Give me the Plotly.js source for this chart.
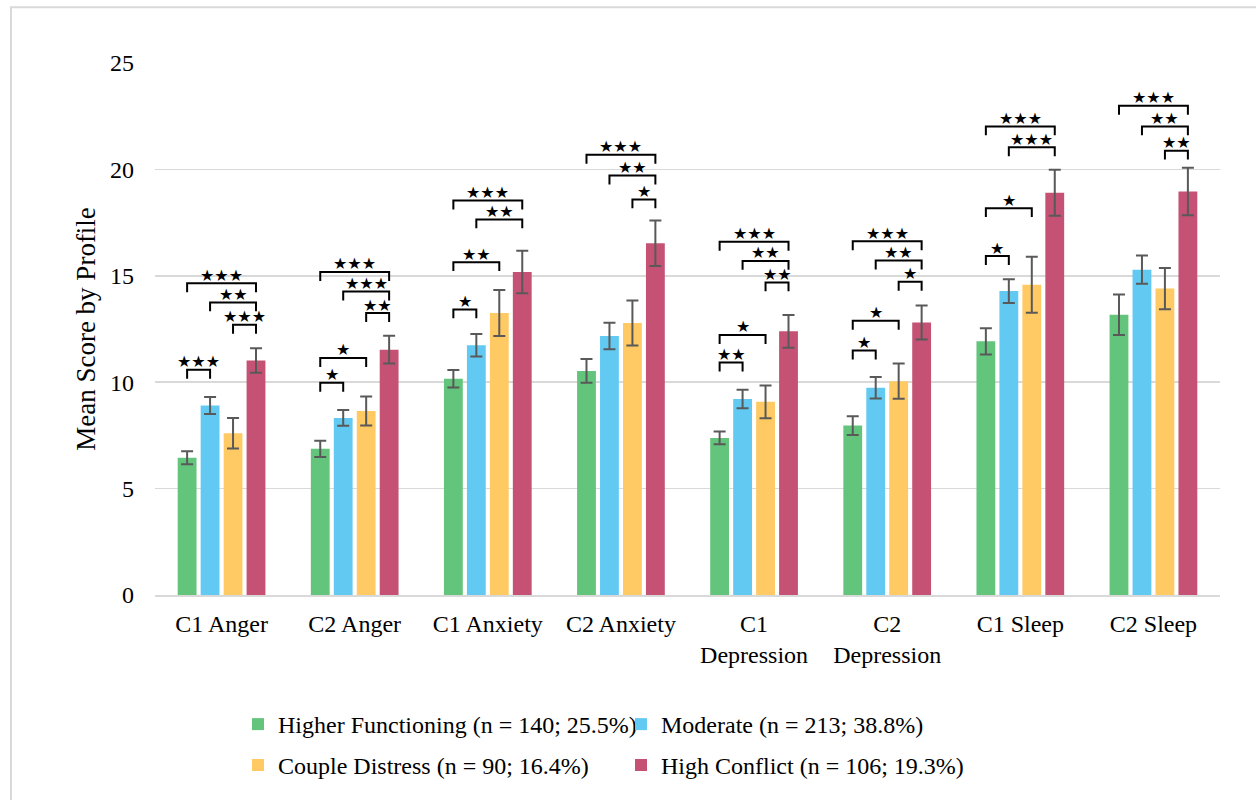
<!DOCTYPE html>
<html>
<head>
<meta charset="utf-8">
<script src="https://cdn.plot.ly/plotly-3.0.1.min.js"></script>
<style>
html,body{margin:0;padding:0;background:#fff;overflow:hidden;}
#chart{width:1256px;height:800px;}
</style>
</head>
<body>
<div id="chart"></div>
<script>
// ---------- DATA ----------
const categories = ['C1 Anger','C2 Anger','C1 Anxiety','C2 Anxiety','C1<br>Depression','C2<br>Depression','C1 Sleep','C2 Sleep'];
const seriesNames = ['Higher Functioning (n = 140; 25.5%)','Moderate (n = 213; 38.8%)','Couple Distress (n = 90; 16.4%)','High Conflict (n = 106; 19.3%)'];

const higherFunctioning    = [6.45, 6.87, 10.16, 10.53, 7.38, 7.96, 11.92, 13.17];
const higherFunctioningErr = [0.30, 0.38, 0.41, 0.56, 0.30, 0.44, 0.62, 0.95];
const moderate             = [8.90, 8.32, 11.74, 12.17, 9.21, 9.74, 14.28, 15.29];
const moderateErr          = [0.40, 0.37, 0.53, 0.62, 0.43, 0.51, 0.56, 0.66];
const coupleDistress       = [7.60, 8.65, 13.25, 12.78, 9.08, 10.05, 14.58, 14.40];
const coupleDistressErr    = [0.72, 0.68, 1.08, 1.06, 0.77, 0.83, 1.32, 0.97];
const highConflict         = [11.02, 11.53, 15.18, 16.53, 12.39, 12.81, 18.90, 18.96];
const highConflictErr      = [0.58, 0.65, 1.00, 1.07, 0.77, 0.80, 1.08, 1.12];

const yTicks = [0, 5, 10, 15, 20, 25];

// significance brackets: category index, from series, to series, level, label
const bracketCat   = [0,0,0,0, 1,1,1,1,1, 2,2,2,2, 3,3,3, 4,4,4,4,4, 5,5,5,5,5, 6,6,6,6, 7,7,7];
const bracketFrom  = [0,2,1,0, 0,0,2,1,0, 0,0,1,0, 2,1,0, 0,0,2,1,0, 0,0,2,1,0, 0,0,1,0, 2,1,0];
const bracketTo    = [1,3,3,3, 1,2,3,3,3, 1,2,3,3, 3,3,3, 1,2,3,3,3, 1,2,3,3,3, 1,2,3,3, 3,3,3];
const bracketLevel = [10.58,12.70,13.75,14.65, 9.97,11.14,13.25,14.26,15.18, 13.42,15.64,17.65,18.54, 18.59,19.71,20.69, 10.92,12.22,14.69,15.70,16.60, 11.49,12.89,14.72,15.72,16.62, 15.93,18.18,21.04,22.02, 20.88,22.02,22.99];
const bracketLabel = ['***','***','**','***', '*','*','**','***','***', '*','**','**','***', '*','**','***', '**','*','**','**','***', '*','*','*','**','***', '*','*','***','***', '**','**','***'];

// ---------- STYLE ----------
const colors = ['#63C57C', '#62CAF2', '#FFCA63', '#C55275'];
const values = [higherFunctioning, moderate, coupleDistress, highConflict];
const errs = [higherFunctioningErr, moderateErr, coupleDistressErr, highConflictErr];
const serif = 'Liberation Serif, Times New Roman, serif';
const W = 1256, H = 800;
const M = {l: 155, r: 36, t: 63, b: 203};
const bargap = 0.31, bargroupgap = 0.18, nSeries = 4;
const slot = (1 - bargap) / nSeries;
const barCenter = (c, s) => c - (1 - bargap) / 2 + slot * (s + 0.5);
const tickDrop = 0.42; // bracket end length in data units

const traces = values.map((v, i) => ({
  type: 'bar',
  name: seriesNames[i],
  x: categories,
  y: v,
  marker: {color: colors[i]},
  error_y: {type: 'data', array: errs[i], visible: true, color: '#595959', thickness: 2, width: 6},
  legend: i < 2 ? 'legend' : 'legend2',
  hoverinfo: 'x+y'
}));

const shapes = [];
const annotations = [];
bracketCat.forEach((c, k) => {
  const xa = barCenter(c, bracketFrom[k]);
  const xb = barCenter(c, bracketTo[k]);
  const y = bracketLevel[k];
  shapes.push({
    type: 'path', xref: 'x', yref: 'y',
    path: `M ${xa},${y - tickDrop} L ${xa},${y} L ${xb},${y} L ${xb},${y - tickDrop}`,
    line: {color: '#000', width: 2}
  });
  annotations.push({
    xref: 'x', yref: 'y', x: (xa + xb) / 2, y: y,
    text: bracketLabel[k].replace(/\*/g, '★'),
    showarrow: false, yanchor: 'middle', yshift: 8,
    font: {family: 'DejaVu Sans', size: 16, color: '#000'}
  });
});

// outer frame (left and top borders)
const pw = W - M.l - M.r, ph = H - M.t - M.b;
shapes.push({
  type: 'rect', xref: 'paper', yref: 'paper', layer: 'below',
  x0: (11 - M.l) / pw, x1: (W + 20 - M.l) / pw,
  y0: 1 - (H + 20 - M.t) / ph, y1: 1 - (7 - M.t) / ph,
  line: {color: '#D9D9D9', width: 2}
});

const legendCommon = {
  orientation: 'h', xanchor: 'left', yanchor: 'middle',
  entrywidth: 338, entrywidthmode: 'pixels',
  font: {family: serif, size: 24, color: '#000'},
  itemwidth: 30, bgcolor: 'rgba(0,0,0,0)', traceorder: 'normal'
};

const layout = {
  width: W, height: H,
  margin: M,
  paper_bgcolor: '#fff', plot_bgcolor: '#fff',
  barmode: 'group', bargap: bargap, bargroupgap: bargroupgap,
  font: {family: serif, size: 24, color: '#000'},
  showlegend: true,
  xaxis: {
    type: 'category', showgrid: false, showline: true, linecolor: '#D9D9D9', linewidth: 2,
    ticks: '', ticklabelstandoff: 6, tickfont: {family: serif, size: 24, color: '#000'},
    fixedrange: true
  },
  yaxis: {
    range: [0, 25], tickvals: yTicks, showgrid: true, gridcolor: '#D9D9D9', gridwidth: 1.5,
    zeroline: false, showline: false, ticks: '', ticklabelstandoff: 20,
    tickfont: {family: serif, size: 24, color: '#000'},
    title: {text: 'Mean Score by Profile', font: {family: serif, size: 27, color: '#000'}, standoff: 6},
    fixedrange: true
  },
  legend: Object.assign({x: (238 - M.l) / pw, y: 1 - (727 - M.t) / ph}, legendCommon),
  legend2: Object.assign({x: (238 - M.l) / pw, y: 1 - (768 - M.t) / ph}, legendCommon),
  shapes: shapes,
  annotations: annotations
};

Plotly.newPlot('chart', traces, layout, {displayModeBar: false, staticPlot: true});
</script>
</body>
</html>
